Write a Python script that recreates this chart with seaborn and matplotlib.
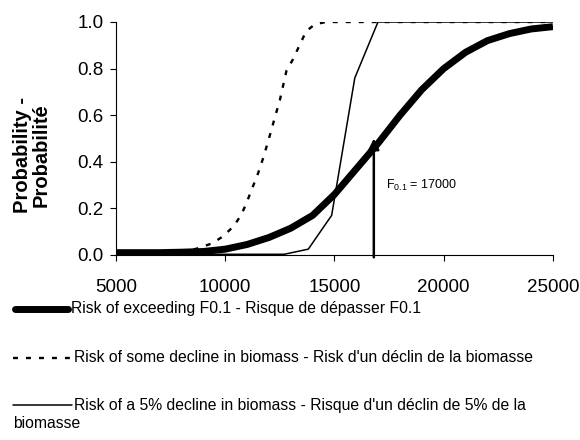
import matplotlib
matplotlib.use("Agg")
import matplotlib.pyplot as plt
from matplotlib.lines import Line2D
import seaborn as sns
import pandas as pd

# ---- data ----
x_exceed = [5000, 6000, 7000, 8000, 9000, 10000, 11000, 12000, 13000, 14000, 15000,
            16000, 17000, 18000, 19000, 20000, 21000, 22000, 23000, 24000, 25000]
p_exceed = [0.01, 0.01, 0.01, 0.012, 0.015, 0.025, 0.045, 0.075, 0.115, 0.17, 0.26,
            0.37, 0.48, 0.60, 0.71, 0.80, 0.87, 0.92, 0.95, 0.97, 0.98]

x_some = [5000, 8000, 8800, 9400, 9900, 10400, 10750, 11000, 11250, 11500, 11750, 12000,
          12300, 12500, 12800, 13100, 13400, 13700, 14100, 14600, 25000]
p_some = [0.005, 0.01, 0.03, 0.05, 0.08, 0.125, 0.175, 0.23, 0.29, 0.35, 0.42, 0.50,
          0.60, 0.665, 0.79, 0.84, 0.90, 0.96, 0.99, 1.0, 1.0]

x_five = [5000, 12700, 13800, 14870, 15930, 16990, 25000]
p_five = [0.003, 0.003, 0.025, 0.17, 0.76, 1.0, 1.0]

arrow_x = 16800
arrow_y = 0.50
f01_label = "17000"

legend_labels = [
    "Risk of exceeding F0.1 - Risque de dépasser F0.1",
    "Risk of some decline in biomass - Risk d'un déclin de la biomasse",
    "Risk of a 5% decline in biomass - Risque d'un déclin de 5% de la",
    "biomasse",
]
x_ticks = [5000, 10000, 15000, 20000, 25000]
y_ticks = [0.0, 0.2, 0.4, 0.6, 0.8, 1.0]

# ---- style ----
sns.set_style("ticks")
plt.rcParams["font.family"] = ["Liberation Sans", "DejaVu Sans"]
plt.rcParams["mathtext.fontset"] = "custom"
plt.rcParams["mathtext.rm"] = "Liberation Sans"
plt.rcParams["mathtext.it"] = "Liberation Sans:italic"
for k in ["text.color", "axes.labelcolor", "xtick.color", "ytick.color", "axes.edgecolor"]:
    plt.rcParams[k] = "black"

DASH = (2.1, 3.4)

fig = plt.figure(figsize=(5.8, 4.4), dpi=100)
ax = fig.add_axes([0.2, 0.4205, 0.7534, 0.5295])

df_ex = pd.DataFrame({"x": x_exceed, "p": p_exceed})
df_so = pd.DataFrame({"x": x_some, "p": p_some})
df_fi = pd.DataFrame({"x": x_five, "p": p_five})

sns.lineplot(data=df_so, x="x", y="p", ax=ax, color="black", lw=1.7, zorder=2)
ax.lines[-1].set_dashes(DASH)
sns.lineplot(data=df_fi, x="x", y="p", ax=ax, color="black", lw=1.1, zorder=3)
sns.lineplot(data=df_ex, x="x", y="p", ax=ax, color="black", lw=5, zorder=4)
ax.lines[-1].set_solid_capstyle("butt")
ax.lines[-1].set_solid_joinstyle("round")

ax.annotate("", xy=(arrow_x, arrow_y), xytext=(arrow_x, -0.01),
            arrowprops=dict(arrowstyle="-|>", lw=1.8, color="black",
                            mutation_scale=16, shrinkA=0, shrinkB=0),
            annotation_clip=False, zorder=5)
ax.text(17350, 0.30, r"F$_{\mathrm{0.1}}$ = " + f01_label, fontsize=9,
        ha="left", va="center")

ax.set_xlim(5000, 25000)
ax.set_ylim(0, 1)
ax.set_xticks(x_ticks)
ax.set_yticks(y_ticks)
ax.set_xticklabels([str(v) for v in x_ticks], fontsize=13.5)
ax.set_yticklabels([f"{v:.1f}" for v in y_ticks], fontsize=13.5)
ax.tick_params(axis="x", length=4, width=0.8, pad=13, direction="out")
ax.tick_params(axis="y", length=4, width=0.8, pad=5, direction="out")
ax.set_xlabel("")
ax.set_ylabel("")
for s in ["top", "right"]:
    ax.spines[s].set_visible(False)
for s in ["left", "bottom"]:
    ax.spines[s].set_linewidth(0.8)
    ax.spines[s].set_color("black")

fig.text(32 / 580, 1 - 155 / 440, "Probability -\nProbabilité", rotation=90,
         ha="center", va="center", fontsize=14.5, fontweight="bold",
         multialignment="center", linespacing=1.0)

# ---- legend (manual, below plot) ----
W, H = 580, 440
def fx(px):
    return px / W
def fy(py):
    return 1 - py / H

LFS = 11.3
fig.add_artist(Line2D([fx(15), fx(68)], [fy(309), fy(309)], color="black", lw=5,
                      solid_capstyle="round", transform=fig.transFigure))
fig.text(fx(71), fy(309), legend_labels[0], fontsize=LFS, ha="left", va="center")

l2 = Line2D([fx(13), fx(70)], [fy(358), fy(358)], color="black", lw=1.7,
            transform=fig.transFigure)
l2.set_dashes(DASH)
fig.add_artist(l2)
fig.text(fx(74), fy(358), legend_labels[1], fontsize=LFS, ha="left", va="center")

fig.add_artist(Line2D([fx(13), fx(72)], [fy(405), fy(405)], color="black", lw=1.1,
                      transform=fig.transFigure))
fig.text(fx(74), fy(405), legend_labels[2], fontsize=LFS, ha="left", va="center")
fig.text(fx(13), fy(423), legend_labels[3], fontsize=LFS, ha="left", va="center")

fig.savefig("out.png", dpi=100)
